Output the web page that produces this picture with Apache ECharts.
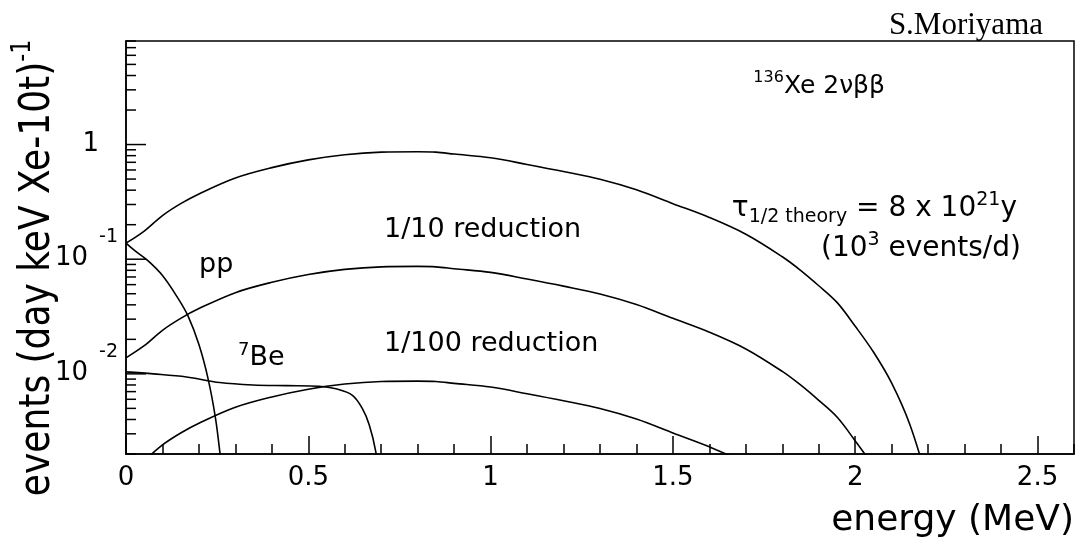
<!DOCTYPE html>
<html>
<head>
<meta charset="utf-8">
<script src="https://cdn.jsdelivr.net/npm/echarts@6/dist/echarts.min.js"></script>
<style>
  html, body { margin: 0; padding: 0; background: #fff; }
  #chart { width: 1082px; height: 546px; }
</style>
</head>
<body>
<div id="chart"></div>
<script>
// 136Xe 2nbb spectrum (energy in MeV, events per day keV Xe-10t)
const energyBB = [0, 0.05, 0.1, 0.15, 0.2, 0.3, 0.4, 0.5, 0.6, 0.7, 0.8, 0.85, 0.9, 1.0, 1.1, 1.2, 1.3, 1.4, 1.5, 1.6, 1.7, 1.8, 1.85, 1.9, 1.95, 2.0, 2.05, 2.1, 2.15, 2.2];
const bbFull = [0.138, 0.176, 0.240, 0.305, 0.371, 0.511, 0.629, 0.735, 0.815, 0.858, 0.865, 0.858, 0.826, 0.767, 0.671, 0.582, 0.498, 0.403, 0.305, 0.231, 0.165, 0.105, 0.080, 0.0587, 0.042, 0.026, 0.0155, 0.0083, 0.0036, 0.0011];
const bbTenth = [0.0138, 0.0176, 0.0240, 0.0305, 0.0371, 0.0511, 0.0629, 0.0735, 0.0815, 0.0858, 0.0865, 0.0858, 0.0826, 0.0767, 0.0671, 0.0582, 0.0498, 0.0403, 0.0305, 0.0231, 0.0165, 0.0105, 0.0080, 0.00587, 0.0042, 0.0026, 0.00155, 0.00083, 0.00036, 0.00011];
const bbHundredth = [0.00138, 0.00176, 0.00240, 0.00305, 0.00371, 0.00511, 0.00629, 0.00735, 0.00815, 0.00858, 0.00865, 0.00858, 0.00826, 0.00767, 0.00671, 0.00582, 0.00498, 0.00403, 0.00305, 0.00231, 0.00165, 0.00105, 0.00080, 0.000587, 0.00042, 0.00026, 0.000155, 0.000083, 0.000036, 0.000011];

// solar neutrinos
const energyPP = [0, 0.025, 0.06, 0.1, 0.14, 0.17, 0.2, 0.225, 0.245, 0.258, 0.27];
const ppRate = [0.138, 0.118, 0.097, 0.072, 0.047, 0.032, 0.018, 0.0091, 0.0042, 0.0020, 0.0009];
const energyBe = [0, 0.075, 0.166, 0.257, 0.348, 0.44, 0.53, 0.576, 0.621, 0.648, 0.667, 0.685, 0.7];
const beRate = [0.0104, 0.0100, 0.0094, 0.0084, 0.0080, 0.0079, 0.0078, 0.0074, 0.0065, 0.0050, 0.0036, 0.0021, 0.0009];

// log axis ticks (ROOT style)
const yMajorTicks = [0.01, 0.1, 1];
const yMinorTicks = [0.002, 0.003, 0.004, 0.005, 0.006, 0.007, 0.008, 0.009,
  0.02, 0.03, 0.04, 0.05, 0.06, 0.07, 0.08, 0.09,
  0.2, 0.3, 0.4, 0.5, 0.6, 0.7, 0.8, 0.9,
  2, 3, 4, 5, 6, 7, 8];
const yLabelValues = [1, 0.1, 0.01];
const yLabelBase = ['1', '10', '10'];
const yLabelExp = ['', '-1', '-2'];

const FONT = '"DejaVu Sans", sans-serif';

function zip(xs, ys) {
  return xs.map((x, i) => [x, ys[i]]);
}

function curve(name, xs, ys) {
  return {
    name: name,
    type: 'line',
    data: zip(xs, ys),
    showSymbol: false,
    smooth: 0.35,
    clip: true,
    lineStyle: { color: '#000', width: 1.6 },
    z: 3
  };
}

function tickSeries(values, len) {
  return {
    type: 'custom',
    coordinateSystem: 'cartesian2d',
    data: values.map(v => [0, v]),
    clip: false,
    z: 5,
    renderItem: function (params, api) {
      let p = api.coord([0, api.value(1)]);
      return {
        type: 'line',
        shape: { x1: p[0], y1: p[1], x2: p[0] + len, y2: p[1] },
        style: { stroke: '#000', lineWidth: 1.5 }
      };
    }
  };
}

let chart = echarts.init(document.getElementById('chart'));

let option = {
  animation: false,
  backgroundColor: '#fff',
  grid: {
    left: 126, right: 8, top: 41, bottom: 92,
    show: true, borderColor: '#000', borderWidth: 1.5
  },
  xAxis: [
    {
      // minor ticks every 0.1
      type: 'value', min: 0, max: 2.6, interval: 0.1, position: 'bottom',
      axisLine: { show: true, lineStyle: { color: '#000', width: 1.5 } },
      axisTick: { show: true, inside: true, length: 10, lineStyle: { color: '#000', width: 1.5 } },
      axisLabel: { show: false },
      splitLine: { show: false }
    },
    {
      // major ticks + labels
      type: 'value', min: 0, max: 2.6, interval: 0.5, position: 'bottom',
      axisLine: { show: false },
      axisTick: { show: true, inside: true, length: 18, lineStyle: { color: '#000', width: 1.5 } },
      axisLabel: { show: true, color: '#000', fontSize: 26, fontFamily: FONT, margin: 11, showMaxLabel: false },
      splitLine: { show: false }
    }
  ],
  yAxis: {
    type: 'log', logBase: 10, min: 0.002, max: 8,
    axisLine: { show: true, lineStyle: { color: '#000', width: 1.5 } },
    axisTick: { show: false },
    axisLabel: { show: false },
    splitLine: { show: false }
  },
  series: [
    curve('2nbb', energyBB, bbFull),
    curve('1/10', energyBB, bbTenth),
    curve('1/100', energyBB, bbHundredth),
    curve('pp', energyPP, ppRate),
    curve('7Be', energyBe, beRate),
    tickSeries(yMajorTicks, 20),
    tickSeries(yMinorTicks, 10),
    {
      type: 'custom',
      coordinateSystem: 'cartesian2d',
      data: yLabelValues.map(v => [0, v]),
      clip: false,
      z: 5,
      renderItem: function (params, api) {
        let p = api.coord([0, api.value(1)]);
        let i = params.dataIndex;
        if (!yLabelExp[i]) {
          return {
            type: 'text',
            style: { text: yLabelBase[i], x: p[0] - 27, y: p[1], align: 'right', verticalAlign: 'middle',
              font: '26px ' + FONT, fill: '#000' }
          };
        }
        return {
          type: 'group',
          children: [
            { type: 'text', style: { text: yLabelBase[i], x: p[0] - 38, y: p[1] - 1, align: 'right', verticalAlign: 'middle',
                font: '26px ' + FONT, fill: '#000' } },
            { type: 'text', style: { text: yLabelExp[i], x: p[0] - 8, y: p[1] - 22, align: 'right', verticalAlign: 'middle',
                font: '19px ' + FONT, fill: '#000' } }
          ]
        };
      }
    }
  ],
  graphic: [
    { type: 'text', x: 1043, y: 26, style: { text: 'S.Moriyama', font: '31px "Liberation Serif", serif', fill: '#000', align: 'right', verticalAlign: 'middle' } },
    { type: 'text', x: 1074, y: 521, style: { text: 'energy (MeV)', font: '36px ' + FONT, fill: '#000', align: 'right', verticalAlign: 'middle' } },
    {
      type: 'text', x: 38, y: 268, rotation: Math.PI / 2, scaleY: 1.2,
      style: {
        text: '{n|events (day keV Xe-10t)}{s|-1}', align: 'center', verticalAlign: 'middle',
        rich: {
          n: { fontSize: 36, fontFamily: FONT, fill: '#000', lineHeight: 46 },
          s: { fontSize: 22, fontFamily: FONT, fill: '#000', lineHeight: 24, verticalAlign: 'top' }
        }
      }
    },
    {
      type: 'text', x: 885, y: 86,
      style: {
        text: '{s|136}{n|Xe 2νββ}', align: 'right', verticalAlign: 'middle',
        rich: {
          n: { fontSize: 25, fontFamily: FONT, fill: '#000', lineHeight: 32 },
          s: { fontSize: 16, fontFamily: FONT, fill: '#000', lineHeight: 18, verticalAlign: 'top' }
        }
      }
    },
    {
      type: 'text', x: 1017, y: 209,
      style: {
        text: '{n|τ}{b|1/2 theory}{n| = 8 x 10}{s|21}{n|y}', align: 'right', verticalAlign: 'middle',
        rich: {
          n: { fontSize: 28, fontFamily: FONT, fill: '#000', lineHeight: 36 },
          b: { fontSize: 19, fontFamily: FONT, fill: '#000', lineHeight: 20, verticalAlign: 'bottom' },
          s: { fontSize: 19, fontFamily: FONT, fill: '#000', lineHeight: 20, verticalAlign: 'top' }
        }
      }
    },
    {
      type: 'text', x: 1021, y: 249,
      style: {
        text: '{n|(10}{s|3}{n| events/d)}', align: 'right', verticalAlign: 'middle',
        rich: {
          n: { fontSize: 28, fontFamily: FONT, fill: '#000', lineHeight: 36 },
          s: { fontSize: 19, fontFamily: FONT, fill: '#000', lineHeight: 20, verticalAlign: 'top' }
        }
      }
    },
    { type: 'text', x: 384, y: 230, style: { text: '1/10 reduction', font: '27px ' + FONT, fill: '#000', verticalAlign: 'middle' } },
    { type: 'text', x: 384, y: 344, style: { text: '1/100 reduction', font: '27px ' + FONT, fill: '#000', verticalAlign: 'middle' } },
    { type: 'text', x: 199, y: 265, style: { text: 'pp', font: '27px ' + FONT, fill: '#000', verticalAlign: 'middle' } },
    {
      type: 'text', x: 238, y: 358,
      style: {
        text: '{s|7}{n|Be}', verticalAlign: 'middle',
        rich: {
          n: { fontSize: 27, fontFamily: FONT, fill: '#000', lineHeight: 34 },
          s: { fontSize: 18, fontFamily: FONT, fill: '#000', lineHeight: 20, verticalAlign: 'top' }
        }
      }
    }
  ]
};

chart.setOption(option);
</script>
</body>
</html>
